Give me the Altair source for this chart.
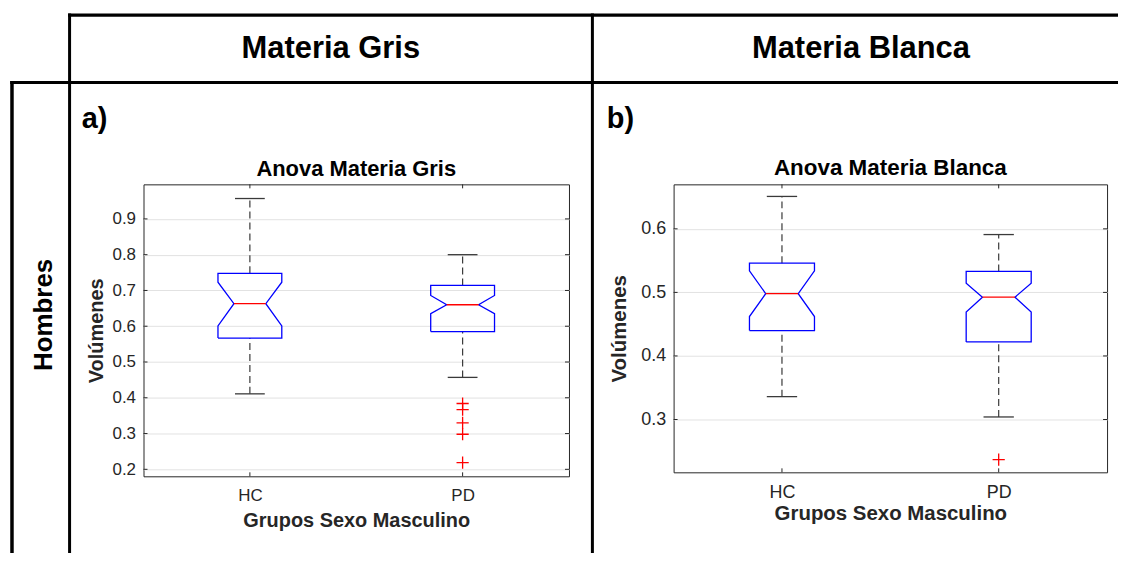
import json
import altair as alt
import pandas as pd

FONT = "Liberation Sans"
AX = "#262626"

# ---------------- data ----------------
groups = ["HC", "PD"]

# Materia Gris (panel a)
gris_whisker_lo = [0.411, 0.457]
gris_q1 = [0.567, 0.585]
gris_notch_lo = [0.601, 0.635]
gris_median = [0.663, 0.660]
gris_notch_hi = [0.723, 0.686]
gris_q3 = [0.748, 0.714]
gris_whisker_hi = [0.957, 0.800]
gris_outlier_groups = ["PD", "PD", "PD", "PD", "PD"]
gris_outliers = [0.384, 0.367, 0.330, 0.298, 0.219]
gris_yticks = [0.2, 0.3, 0.4, 0.5, 0.6, 0.7, 0.8, 0.9]

# Materia Blanca (panel b)
blanca_whisker_lo = [0.336, 0.304]
blanca_q1 = [0.440, 0.422]
blanca_notch_lo = [0.462, 0.469]
blanca_median = [0.498, 0.4925]
blanca_notch_hi = [0.534, 0.5145]
blanca_q3 = [0.546, 0.533]
blanca_whisker_hi = [0.651, 0.591]
blanca_outlier_groups = ["PD"]
blanca_outliers = [0.237]
blanca_yticks = [0.3, 0.4, 0.5, 0.6]

header_labels = ["Materia Gris", "Materia Blanca"]
row_labels = ["Hombres"]
panel_letters = ["a)", "b)"]
panel_titles = ["Anova Materia Gris", "Anova Materia Blanca"]
x_title = "Grupos Sexo Masculino"
y_title = "Volúmenes"

# ---------------- styles ----------------
BOX_HW = 0.15
NOTCH_HW = 0.075
CAP_HW = 0.07


def build_tables(wlo, q1, nlo, med, nhi, q3, whi, og, ov):
    pos = list(range(1, len(groups) + 1))
    st = pd.DataFrame({"group": groups, "pos": pos, "wlo": wlo, "q1": q1,
                       "nlo": nlo, "med": med, "nhi": nhi, "q3": q3, "whi": whi})
    st["mx1"] = st["pos"] - NOTCH_HW
    st["mx2"] = st["pos"] + NOTCH_HW
    st["cx1"] = st["pos"] - CAP_HW
    st["cx2"] = st["pos"] + CAP_HW
    rows = []
    for _, r in st.iterrows():
        c = r["pos"]
        pts = [(c - BOX_HW, r.q1), (c - BOX_HW, r.nlo), (c - NOTCH_HW, r.med),
               (c - BOX_HW, r.nhi), (c - BOX_HW, r.q3), (c + BOX_HW, r.q3),
               (c + BOX_HW, r.nhi), (c + NOTCH_HW, r.med), (c + BOX_HW, r.nlo),
               (c + BOX_HW, r.q1), (c - BOX_HW, r.q1)]
        for k, (x, y) in enumerate(pts):
            rows.append({"group": r.group, "k": k, "x": x, "y": y})
    poly = pd.DataFrame(rows)
    outl = pd.DataFrame({"pos": [groups.index(g) + 1 for g in og], "v": ov})
    return st, poly, outl


def label(txt, x, y, size, align="center", angle=0, baseline="middle", color="black"):
    return alt.Chart(pd.DataFrame({"t": [txt]})).mark_text(
        font=FONT, fontSize=size, fontWeight="bold", color=color,
        align=align, baseline=baseline, angle=angle).encode(
        x=alt.value(x), y=alt.value(y), text="t:N")


def panel(tabs, yticks, ydom, W, H, cfg, extra):
    st, poly, outl = tabs
    xs = alt.Scale(domain=[0.5, len(groups) + 0.5], nice=False, zero=False)
    ys = alt.Scale(domain=ydom, nice=False, zero=False)
    xaxis = alt.Axis(values=list(range(1, len(groups) + 1)),
                     labelExpr=json.dumps(groups) + "[datum.value - 1]",
                     grid=False, domain=False, ticks=False, tickSize=0, labelAngle=0,
                     labelPadding=cfg["xlabpad"], labelFont=FONT,
                     labelFontSize=cfg["lab"], labelColor=AX,
                     title=x_title, titleFont=FONT, titleFontSize=cfg["axt"],
                     titleFontWeight="bold", titleColor=AX, titleX=W / 2,
                     titleY=cfg["xtitleY"], titleAlign="center", titleBaseline="middle")
    yaxis = alt.Axis(values=yticks, format=".1f", grid=True, gridColor="#e2e2e2",
                     gridWidth=1, domain=False, ticks=False, tickSize=0,
                     labelPadding=8, labelFont=FONT, labelFontSize=cfg["lab"],
                     labelColor=AX, title=y_title, titleFont=FONT,
                     titleFontSize=cfg["axt"], titleFontWeight="bold", titleColor=AX,
                     titleAngle=270, titleX=cfg["ytitleX"], titleY=H / 2,
                     titleAlign="center", titleBaseline="middle")

    def X(f):
        return alt.X(f, scale=xs, axis=xaxis)

    def Y(f):
        return alt.Y(f, scale=ys, axis=yaxis)

    wh = "#3a3a3a"
    layers = [
        alt.Chart(st).mark_rule(color=wh, strokeWidth=1.2, strokeDash=[7, 4])
        .encode(x=X("pos:Q"), y=Y("q3:Q"), y2="whi:Q"),
        alt.Chart(st).mark_rule(color=wh, strokeWidth=1.2, strokeDash=[7, 4])
        .encode(x=X("pos:Q"), y=Y("wlo:Q"), y2="q1:Q"),
        alt.Chart(st).mark_rule(color=wh, strokeWidth=1.3)
        .encode(x=X("cx1:Q"), x2="cx2:Q", y=Y("whi:Q")),
        alt.Chart(st).mark_rule(color=wh, strokeWidth=1.3)
        .encode(x=X("cx1:Q"), x2="cx2:Q", y=Y("wlo:Q")),
        alt.Chart(poly).mark_line(color="#0000ff", strokeWidth=1.3)
        .encode(x=X("x:Q"), y=Y("y:Q"), detail="group:N", order="k:Q"),
        alt.Chart(st).mark_rule(color="#ff0000", strokeWidth=1.3)
        .encode(x=X("mx1:Q"), x2="mx2:Q", y=Y("med:Q")),
        alt.Chart(outl).mark_point(shape="M-1,0L1,0M0,-1L0,1", size=150,
                                   color="#ff0000", filled=False, strokeWidth=1.3, opacity=1)
        .encode(x=X("pos:Q"), y=Y("v:Q")),
    ]
    tk = pd.DataFrame({"v": yticks})
    tx = pd.DataFrame({"pos": list(range(1, len(groups) + 1))})
    layers += [
        alt.Chart(tk).mark_rule(color=AX, strokeWidth=1)
        .encode(x=alt.value(0), x2=alt.value(4), y=Y("v:Q")),
        alt.Chart(tk).mark_rule(color=AX, strokeWidth=1)
        .encode(x=alt.value(W - 4), x2=alt.value(W), y=Y("v:Q")),
        alt.Chart(tx).mark_rule(color=AX, strokeWidth=1)
        .encode(x=X("pos:Q"), y=alt.value(H), y2=alt.value(H - 4)),
        alt.Chart(tx).mark_rule(color=AX, strokeWidth=1)
        .encode(x=X("pos:Q"), y=alt.value(0), y2=alt.value(4)),
        label(cfg["title"], W / 2, cfg["titleY"], cfg["tfs"], baseline="alphabetic"),
    ]
    layers += extra
    return alt.layer(*layers).properties(width=W, height=H)


# ---------------- table frame (pixel offsets from panel a's plot origin) ----------------
one = pd.DataFrame({"k": [0]})
BOTTOM = 370
RIGHT = 978


def hline(x1, x2, y, w):
    return alt.Chart(one).mark_rule(color="black", strokeWidth=w).encode(
        x=alt.value(x1), x2=alt.value(x2), y=alt.value(y))


def vline(x, y1, y2, w):
    return alt.Chart(one).mark_rule(color="black", strokeWidth=w).encode(
        x=alt.value(x), y=alt.value(y1), y2=alt.value(y2))


frame = [
    hline(-75.7, RIGHT, -169.8, 3.2),
    hline(-133.8, RIGHT, -102.2, 3.0),
    vline(-132, -103.7, BOTTOM, 3.5),
    vline(-74.2, -171.4, BOTTOM, 3.0),
    vline(450.5, -171.4, BOTTOM, 3.0),
    label(header_labels[0], 188, -136, 31),
    label(header_labels[1], 720, -136, 31),
    label(panel_letters[0], -62, -66, 29, align="left"),
    label(panel_letters[1], 465, -66, 29, align="left"),
    label(row_labels[0], -100, 131, 26, angle=270),
]

tabs_a = build_tables(gris_whisker_lo, gris_q1, gris_notch_lo, gris_median,
                      gris_notch_hi, gris_q3, gris_whisker_hi,
                      gris_outlier_groups, gris_outliers)
tabs_b = build_tables(blanca_whisker_lo, blanca_q1, blanca_notch_lo, blanca_median,
                      blanca_notch_hi, blanca_q3, blanca_whisker_hi,
                      blanca_outlier_groups, blanca_outliers)

cfg_a = dict(title=panel_titles[0], tfs=22, titleY=-8, lab=17, axt=20,
             xlabpad=11, xtitleY=44, ytitleX=-47)
cfg_b = dict(title=panel_titles[1], tfs=22.5, titleY=-9, lab=18, axt=20.5,
             xlabpad=11, xtitleY=41, ytitleX=-54)

panel_a = panel(tabs_a, gris_yticks, [0.1805, 0.9966], 427, 293, cfg_a, frame)
panel_b = panel(tabs_b, blanca_yticks, [0.2169, 0.6700], 435, 289, cfg_b, [])

chart = alt.hconcat(panel_a, panel_b, spacing=105, bounds="flush").properties(
    padding={"left": 0, "top": 2, "right": 0, "bottom": 0},
    background="white",
).configure_view(stroke=AX, strokeWidth=1)

chart.save("out.html", embed_options={"renderer": "svg", "actions": False})
